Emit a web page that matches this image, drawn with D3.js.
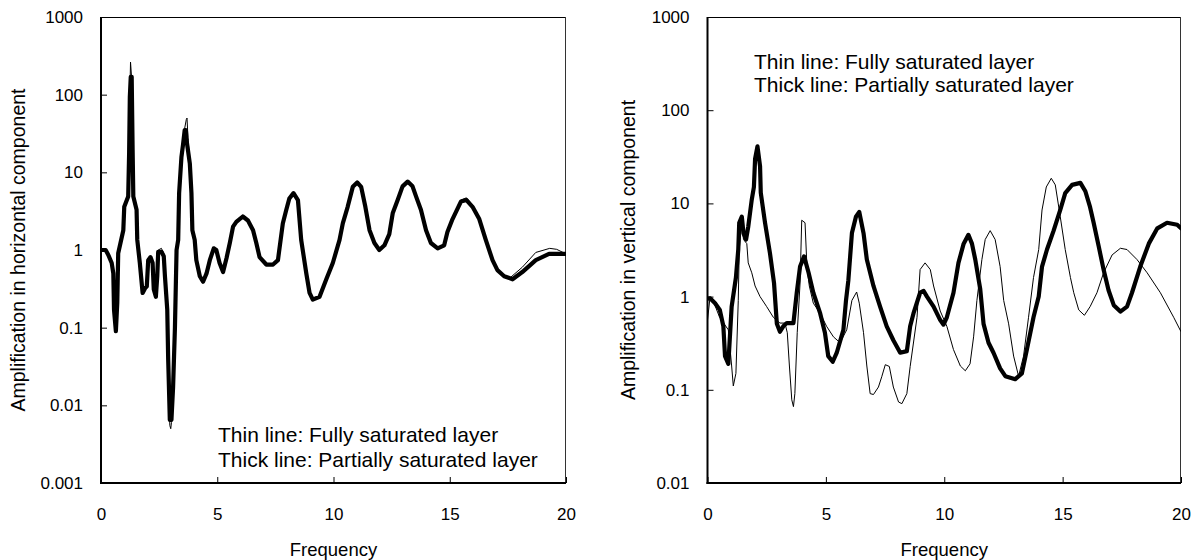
<!DOCTYPE html>
<html>
<head>
<meta charset="utf-8">
<script src="https://cdn.jsdelivr.net/npm/d3@7"></script>
<style>
  html, body { margin: 0; padding: 0; background: #fff; }
  svg { display: block; }
  text { font-family: "Liberation Sans", Arial, Helvetica, sans-serif; fill: #000; }
</style>
</head>
<body>
<svg id="chart" width="1197" height="560"></svg>
<script>
// ---------------- DATA ----------------
const xTicks = [0, 5, 10, 15, 20];
const xTickLabels = ["0", "5", "10", "15", "20"];
const hYTicks = [1000, 100, 10, 1, 0.1, 0.01, 0.001];
const hYTickLabels = ["1000", "100", "10", "1", "0.1", "0.01", "0.001"];
const vYTicks = [1000, 100, 10, 1, 0.1, 0.01];
const vYTickLabels = ["1000", "100", "10", "1", "0.1", "0.01"];

const xTitle = "Frequency";
const hYTitle = "Amplification in horizontal component";
const vYTitle = "Amplification in vertical component";
const legendLines = ["Thin line: Fully saturated layer", "Thick line: Partially saturated layer"];

// Horizontal component – thick line (partially saturated layer)
const horizThick = [
  [0,1.0],[0.2,1.0],[0.31,0.87],[0.46,0.68],[0.53,0.5],[0.56,0.17],[0.64,0.09],[0.70,0.21],
  [0.74,0.91],[0.96,1.8],[1.0,3.6],[1.17,4.9],[1.21,17.8],[1.24,93],[1.28,170],[1.32,170],
  [1.36,19.5],[1.39,4.9],[1.53,3.3],[1.56,1.35],[1.67,0.68],[1.79,0.28],[1.89,0.32],[1.97,0.34],
  [2.03,0.74],[2.13,0.81],[2.22,0.68],[2.27,0.31],[2.36,0.25],[2.42,0.46],[2.46,0.95],[2.6,0.95],
  [2.7,0.83],[2.75,0.46],[2.85,0.17],[2.89,0.039],[2.96,0.0065],[3.03,0.0065],[3.1,0.017],
  [3.18,0.1],[3.25,1.0],[3.32,1.35],[3.36,5.4],[3.46,15.8],[3.53,23],[3.6,35],[3.65,35],
  [3.68,26],[3.82,13],[3.89,5.4],[3.93,1.8],[4.03,1.35],[4.1,0.74],[4.25,0.46],[4.39,0.39],
  [4.54,0.5],[4.68,0.74],[4.85,1.05],[4.96,1.0],[5.1,0.68],[5.25,0.52],[5.4,0.79],[5.54,1.23],
  [5.68,2.0],[5.82,2.3],[6.1,2.7],[6.32,2.4],[6.54,1.8],[6.68,1.23],[6.82,0.81],[7.11,0.65],
  [7.4,0.65],[7.61,0.74],[7.82,2.2],[7.97,3.3],[8.1,4.6],[8.28,5.4],[8.47,4.4],[8.61,1.35],
  [8.83,0.5],[8.97,0.28],[9.11,0.23],[9.4,0.25],[9.69,0.42],[9.97,0.68],[10.26,1.35],[10.4,2.2],
  [10.61,3.6],[10.83,6.5],[11.02,7.4],[11.19,6.5],[11.37,3.6],[11.55,1.8],[11.76,1.23],[11.97,1.0],
  [12.19,1.15],[12.4,1.6],[12.55,3.0],[12.76,4.4],[12.97,6.6],[13.19,7.6],[13.4,6.6],[13.55,4.9],
  [13.76,3.3],[13.98,1.8],[14.19,1.23],[14.48,1.05],[14.76,1.15],[14.9,1.7],[15.12,2.5],[15.48,4.2],
  [15.72,4.4],[15.98,3.6],[16.27,2.5],[16.55,1.35],[16.84,0.74],[17.05,0.55],[17.34,0.46],[17.7,0.42],
  [18.12,0.52],[18.7,0.74],[19.27,0.89],[20,0.89]
];

// Horizontal component – thin line (fully saturated layer)
const horizThin = [
  [0,1.0],[0.2,1.0],[0.31,0.87],[0.46,0.68],[0.53,0.5],[0.56,0.17],[0.64,0.09],[0.70,0.21],
  [0.74,0.91],[0.96,1.8],[1.0,3.6],[1.17,4.9],[1.21,17.8],[1.24,100],[1.27,263],[1.31,175],
  [1.36,19.5],[1.39,4.9],[1.53,3.3],[1.56,1.35],[1.67,0.68],[1.79,0.28],[1.89,0.32],[1.97,0.34],
  [2.03,0.74],[2.13,0.83],[2.22,0.68],[2.27,0.31],[2.36,0.25],[2.42,0.46],[2.46,1.0],[2.6,1.05],
  [2.7,0.9],[2.75,0.46],[2.85,0.17],[2.89,0.035],[2.96,0.0055],[3.0,0.005],[3.03,0.006],[3.1,0.016],
  [3.18,0.1],[3.25,1.0],[3.32,1.35],[3.36,5.4],[3.46,15.8],[3.53,24],[3.6,37],[3.67,48],
  [3.7,50],[3.74,28],[3.82,13],[3.89,5.4],[3.93,1.8],[4.03,1.35],[4.1,0.74],[4.25,0.46],[4.39,0.39],
  [4.54,0.5],[4.68,0.74],[4.85,1.05],[4.96,1.0],[5.1,0.68],[5.25,0.52],[5.4,0.79],[5.54,1.23],
  [5.68,2.1],[5.82,2.4],[6.1,2.8],[6.32,2.5],[6.54,1.8],[6.68,1.23],[6.82,0.81],[7.11,0.65],
  [7.4,0.65],[7.61,0.74],[7.82,2.2],[7.97,3.3],[8.1,4.6],[8.28,5.5],[8.47,4.4],[8.61,1.35],
  [8.83,0.5],[8.97,0.28],[9.11,0.23],[9.4,0.25],[9.69,0.42],[9.97,0.68],[10.26,1.35],[10.4,2.2],
  [10.61,3.6],[10.83,6.5],[11.02,7.4],[11.19,6.5],[11.37,3.6],[11.55,1.8],[11.76,1.23],[11.97,1.0],
  [12.19,1.15],[12.4,1.6],[12.55,3.0],[12.76,4.4],[12.97,6.6],[13.19,7.6],[13.4,6.6],[13.55,4.9],
  [13.76,3.3],[13.98,1.8],[14.19,1.23],[14.48,1.05],[14.76,1.15],[14.9,1.7],[15.12,2.5],[15.48,4.4],
  [15.72,4.7],[15.98,3.8],[16.27,2.5],[16.55,1.35],[16.84,0.74],[17.05,0.57],[17.34,0.46],[17.6,0.44],
  [18.12,0.6],[18.7,0.93],[19.3,1.05],[19.6,1.02],[20,0.89]
];

// Vertical component – thick line (partially saturated layer)
const vertThick = [
  [0,0.95],[0.11,0.96],[0.32,0.85],[0.52,0.72],[0.67,0.48],[0.74,0.23],[0.88,0.19],[1.02,0.78],
  [1.2,1.6],[1.3,3.2],[1.34,6.2],[1.45,7.2],[1.52,4.8],[1.63,4.1],[1.72,5.6],[1.87,11],[1.96,15],
  [2.01,30],[2.11,41],[2.22,25],[2.25,13],[2.43,6.2],[2.64,2.9],[2.81,1.4],[2.93,0.51],[3.06,0.42],
  [3.2,0.48],[3.35,0.52],[3.63,0.52],[3.77,1.1],[3.91,2.1],[4.08,2.7],[4.27,1.8],[4.47,1.1],
  [4.76,0.66],[4.96,0.41],[5.1,0.23],[5.29,0.2],[5.46,0.25],[5.74,0.44],[5.85,0.91],[5.95,1.5],
  [6.1,4.8],[6.27,7.2],[6.41,8.1],[6.59,4.8],[6.73,2.5],[7.01,1.3],[7.29,0.78],[7.57,0.48],
  [7.85,0.34],[8.14,0.25],[8.42,0.26],[8.56,0.48],[8.7,0.66],[8.98,1.1],[9.13,1.15],[9.27,1.0],
  [9.55,0.78],[9.83,0.56],[9.97,0.5],[10.11,0.6],[10.39,1.1],[10.6,2.3],[10.82,3.7],[11.02,4.6],
  [11.17,3.7],[11.31,2.5],[11.52,1.2],[11.66,0.51],[11.87,0.32],[12.08,0.25],[12.36,0.17],[12.58,0.14],
  [13.0,0.13],[13.28,0.15],[13.49,0.27],[13.77,0.6],[13.99,1.0],[14.13,2.1],[14.34,3.2],[14.62,5.1],
  [14.9,8.5],[15.11,12.9],[15.4,15.8],[15.75,16.6],[15.96,13.5],[16.16,9.1],[16.31,6.2],[16.52,3.5],
  [16.73,1.95],[16.94,1.17],[17.16,0.81],[17.44,0.69],[17.72,0.78],[17.93,1.1],[18.28,2.1],[18.64,3.7],
  [19.0,5.4],[19.41,6.2],[19.84,5.9],[20,5.4]
];

// Vertical component – thin line (fully saturated layer)
const vertThin = [
  [0,0.56],[0.11,1.0],[0.32,0.8],[0.51,0.6],[0.88,0.44],[1.02,0.18],[1.09,0.11],[1.2,0.15],
  [1.3,0.91],[1.34,3.2],[1.45,6.3],[1.52,4.1],[1.66,3.7],[1.72,2.3],[1.87,1.8],[2.01,1.3],
  [2.22,1.0],[2.5,0.78],[2.78,0.6],[3.06,0.52],[3.27,0.52],[3.37,0.41],[3.46,0.18],[3.56,0.078],
  [3.63,0.066],[3.69,0.091],[3.79,0.41],[3.91,1.4],[3.98,6.6],[4.12,6.2],[4.2,2.1],[4.3,1.3],
  [4.47,0.85],[4.76,0.66],[5.03,0.48],[5.32,0.37],[5.6,0.32],[5.88,0.44],[6.1,0.91],[6.3,1.12],
  [6.41,0.85],[6.59,0.41],[6.73,0.18],[6.87,0.091],[7.01,0.089],[7.22,0.107],[7.36,0.138],[7.51,0.186],
  [7.68,0.178],[7.85,0.107],[8.07,0.074],[8.21,0.071],[8.42,0.091],[8.56,0.178],[8.85,0.6],[8.98,1.95],
  [9.19,2.3],[9.41,1.95],[9.55,1.3],[9.83,0.7],[10.11,0.48],[10.39,0.27],[10.68,0.18],[10.89,0.16],
  [11.09,0.19],[11.24,0.37],[11.38,0.91],[11.59,2.5],[11.73,4.1],[11.94,5.1],[12.15,4.1],[12.36,2.1],
  [12.51,0.91],[12.72,0.51],[12.93,0.23],[13.14,0.14],[13.35,0.23],[13.56,0.6],[13.77,1.6],[13.99,3.2],
  [14.13,8.5],[14.31,15],[14.52,18.6],[14.69,15.8],[14.9,7.2],[15.11,3.2],[15.33,1.6],[15.47,1.1],
  [15.68,0.72],[15.92,0.63],[16.16,0.78],[16.45,1.1],[16.73,1.8],[17.09,2.8],[17.44,3.3],[17.72,3.2],
  [18.14,2.5],[18.57,1.8],[19.13,1.1],[19.69,0.6],[20,0.42]
];

// ---------------- DRAW ----------------
const svg = d3.select("#chart");
const FS = 17;          // tick labels
const FS_X_TITLE = 18.5;
const FS_Y_TITLE = 19.5;
const FS_LEGEND = 21;

function panel(opts) {
  const { left, right, top, bottom, yDomain, yTicks, yLabels, yTitle, yTitleX, thin, thick, legendX, legendY, legendGap } = opts;
  const x = d3.scaleLinear().domain([0, 20]).range([left, right]);
  const y = d3.scaleLog().domain(yDomain).range([bottom, top]);
  const g = svg.append("g");

  const clipId = "clip" + Math.round(left);
  svg.append("clipPath").attr("id", clipId)
    .append("rect").attr("x", left).attr("y", top).attr("width", right - left).attr("height", bottom - top);

  const xAxis = d3.axisBottom(x).tickValues(xTicks)
    .tickFormat((d, i) => xTickLabels[i]).tickSizeInner(-6).tickSizeOuter(0).tickPadding(25);
  const gx = g.append("g").attr("transform", `translate(0,${bottom})`).call(xAxis);
  gx.select(".domain").remove();
  gx.selectAll(".tick line").attr("stroke", "#000").attr("stroke-width", 1);
  gx.selectAll(".tick text").attr("font-size", FS).attr("font-family", "Liberation Sans, Arial, sans-serif");

  const yAxis = d3.axisLeft(y).tickValues(yTicks)
    .tickFormat((d, i) => yLabels[i]).tickSizeInner(-6).tickSizeOuter(0).tickPadding(18);
  const gy = g.append("g").attr("transform", `translate(${left},0)`).call(yAxis);
  gy.select(".domain").remove();
  gy.selectAll(".tick line").attr("stroke", "#000").attr("stroke-width", 1);
  gy.selectAll(".tick text").attr("font-size", FS).attr("font-family", "Liberation Sans, Arial, sans-serif");

  g.append("line").attr("x1", left).attr("x2", right).attr("y1", top + 0.5).attr("y2", top + 0.5)
    .attr("stroke", "#000").attr("stroke-width", 1);
  g.append("line").attr("x1", right - 0.5).attr("x2", right - 0.5).attr("y1", top).attr("y2", bottom)
    .attr("stroke", "#333").attr("stroke-width", 1);
  g.append("line").attr("x1", left).attr("x2", left).attr("y1", top).attr("y2", bottom + 1)
    .attr("stroke", "#000").attr("stroke-width", 2);
  g.append("line").attr("x1", left - 1).attr("x2", right).attr("y1", bottom).attr("y2", bottom)
    .attr("stroke", "#000").attr("stroke-width", 2);

  const line = d3.line().x(d => x(d[0])).y(d => y(d[1]));
  const lg = g.append("g").attr("clip-path", `url(#${clipId})`);
  lg.append("path").datum(thin).attr("d", line).attr("fill", "none")
    .attr("stroke", "#000").attr("stroke-width", 1).attr("stroke-linejoin", "round");
  lg.append("path").datum(thick).attr("d", line).attr("fill", "none")
    .attr("stroke", "#000").attr("stroke-width", 4.2).attr("stroke-linejoin", "round").attr("stroke-linecap", "round");

  g.append("text").attr("x", (left + right) / 2).attr("y", 556).attr("text-anchor", "middle")
    .attr("font-size", FS_X_TITLE).text(xTitle);
  g.append("text").attr("transform", `translate(${yTitleX},${(top + bottom) / 2}) rotate(-90)`)
    .attr("text-anchor", "middle").attr("dy", "0.35em").attr("font-size", FS_Y_TITLE).text(yTitle);

  legendLines.forEach((t, i) => {
    g.append("text").attr("x", legendX).attr("y", legendY + i * legendGap).attr("font-size", FS_LEGEND).text(t);
  });
}

panel({ left: 101, right: 566, top: 17, bottom: 483, yDomain: [0.001, 1000],
  yTicks: hYTicks, yLabels: hYTickLabels, yTitle: hYTitle, yTitleX: 18,
  thin: horizThin, thick: horizThick, legendX: 218, legendY: 442, legendGap: 25 });

panel({ left: 707.5, right: 1181, top: 17, bottom: 483, yDomain: [0.01, 1000],
  yTicks: vYTicks, yLabels: vYTickLabels, yTitle: vYTitle, yTitleX: 628,
  thin: vertThin, thick: vertThick, legendX: 754, legendY: 69, legendGap: 23 });
</script>
</body>
</html>
